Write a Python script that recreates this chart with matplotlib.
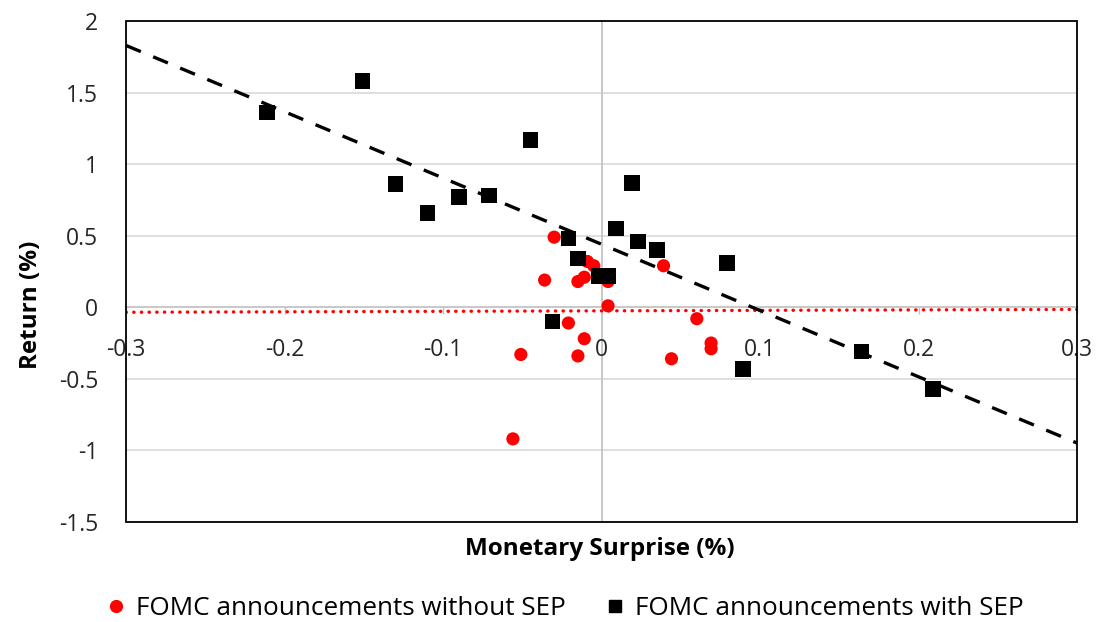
import matplotlib
matplotlib.use("Agg")
import matplotlib.pyplot as plt
from matplotlib.patches import Rectangle
from matplotlib.lines import Line2D

plt.rcParams['font.family'] = ['Open Sans', 'DejaVu Sans']

# FOMC announcements without SEP (red circles)
x_no_sep = [-0.030, -0.036, -0.015, -0.011, -0.009, -0.005, 0.004, 0.004, 0.039,
            -0.021, -0.011, -0.051, -0.015, 0.044, 0.060, 0.069, 0.069, -0.056]
y_no_sep = [0.49, 0.19, 0.18, 0.21, 0.32, 0.29, 0.18, 0.01, 0.29,
            -0.11, -0.22, -0.33, -0.34, -0.36, -0.08, -0.25, -0.29, -0.92]

# FOMC announcements with SEP (black squares)
x_sep = [-0.211, -0.151, -0.045, -0.130, -0.110, -0.090, -0.071, -0.021, 0.019, 0.009,
         0.023, 0.035, -0.015, -0.002, 0.004, -0.031, 0.079, 0.089, 0.164, 0.209]
y_sep = [1.36, 1.58, 1.17, 0.86, 0.66, 0.77, 0.78, 0.48, 0.87, 0.55,
         0.46, 0.40, 0.34, 0.22, 0.22, -0.10, 0.31, -0.43, -0.31, -0.57]

# Trend lines (endpoints at x-limits)
trend_x = [-0.3, 0.3]
trend_sep_y = [1.83, -0.95]
trend_no_sep_y = [-0.035, -0.015]

x_ticks = [-0.3, -0.2, -0.1, 0, 0.1, 0.2, 0.3]
x_tick_labels = ['-0.3', '-0.2', '-0.1', '0', '0.1', '0.2', '0.3']
y_ticks = [-1.5, -1, -0.5, 0, 0.5, 1, 1.5, 2]
y_tick_labels = ['-1.5', '-1', '-0.5', '0', '0.5', '1', '1.5', '2']

fig = plt.figure(figsize=(10.99, 6.22), dpi=100)
ax = fig.add_axes([0.1147, 0.161, 0.8656, 0.805])
ax.set_xlim(-0.3, 0.3)
ax.set_ylim(-1.5, 2)

# gridlines
for yv in y_ticks:
    if yv != 0:
        ax.axhline(yv, color='#d9d9d9', lw=1.2, zorder=0)
ax.axvline(0, color='#bfbfbf', lw=1.2, zorder=1)

# spines
for s in ['top', 'right', 'left']:
    ax.spines[s].set_visible(False)
ax.spines['bottom'].set_position(('data', 0))
ax.spines['bottom'].set_color('#bfbfbf')
ax.spines['bottom'].set_linewidth(1.2)
ax.add_patch(Rectangle((0, 0), 1, 1, transform=ax.transAxes, fill=False,
                       edgecolor='black', lw=1.3, zorder=5, clip_on=False))

ax.set_xticks(x_ticks)
ax.set_xticklabels(x_tick_labels)
ax.set_yticks(y_ticks)
ax.set_yticklabels(y_tick_labels)
ax.tick_params(axis='x', direction='out', length=5, color='#bfbfbf', width=1,
               labelsize=16.5, pad=17, labelcolor='#262626')
ax.tick_params(axis='y', length=0, labelsize=16.5, pad=20, labelcolor='#262626')

# trend lines
ax.plot(trend_x, trend_no_sep_y, color='red', lw=2.4,
        linestyle=(0, (0.1, 2.2)), dash_capstyle='round', zorder=2)
ax.plot(trend_x, trend_sep_y, color='black', lw=2.4,
        linestyle=(0, (4.8, 4.0)), zorder=4)

# points
ax.scatter(x_no_sep, y_no_sep, s=90, marker='o', color='#ff0000',
           edgecolors='none', zorder=3)
ax.scatter(x_sep, y_sep, s=125, marker='s', color='black',
           edgecolors='none', zorder=3)

fig.text(0.546, 0.117, 'Monetary Surprise (%)', ha='center', va='center',
         fontsize=17.5, fontweight='bold', color='#000000')
fig.text(0.028, 0.51, 'Return (%)', ha='center', va='center', rotation=90,
         fontsize=17.5, fontweight='bold', color='#000000')

handles = [
    Line2D([], [], marker='o', color='#ff0000', linestyle='none', markersize=8.5),
    Line2D([], [], marker='s', color='black', linestyle='none', markersize=8.5),
]
fig.legend(handles, ['FOMC announcements without SEP', 'FOMC announcements with SEP'],
           loc='center', bbox_to_anchor=(0.515, 0.022), ncol=2, frameon=False,
           fontsize=18.8, handlelength=0.6, handletextpad=0.45, columnspacing=1.6)

fig.savefig('out.png', dpi=100)
